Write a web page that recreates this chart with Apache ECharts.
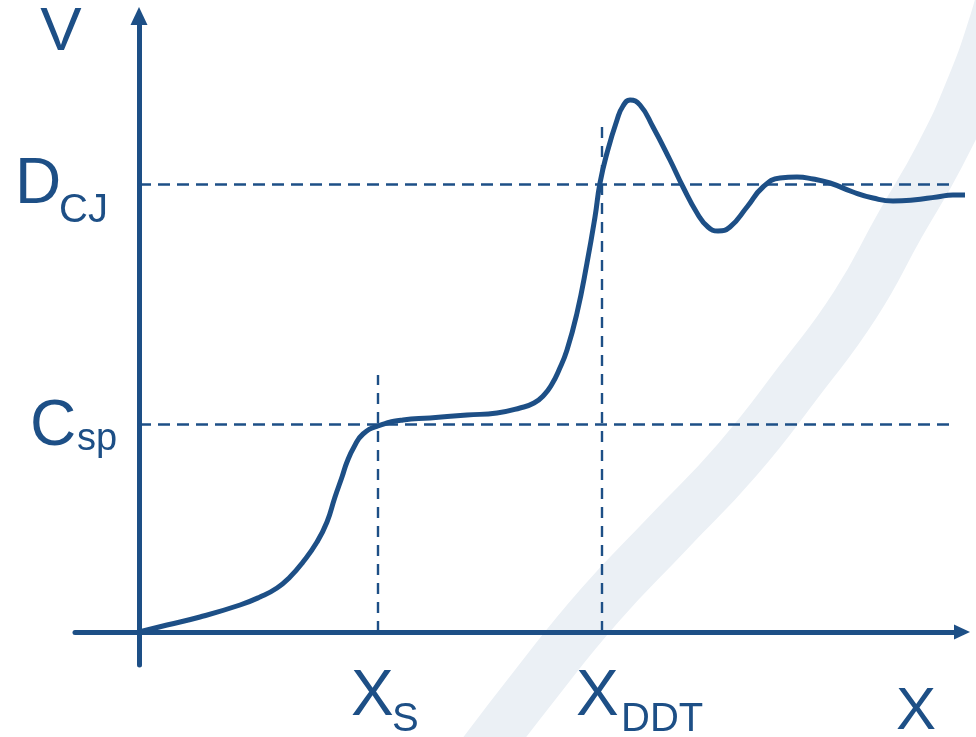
<!DOCTYPE html>
<html>
<head>
<meta charset="utf-8">
<script src="https://cdn.jsdelivr.net/npm/echarts@6/dist/echarts.min.js"></script>
<style>
  html, body { margin: 0; padding: 0; background: #ffffff; }
  #chart { width: 976px; height: 737px; }
</style>
</head>
<body>
<div id="chart"></div>
<script>
// Distance along the tube (x) and front velocity (v) of the detonation profile
const distance = [0, 28, 61, 101, 121, 138, 151, 164, 178, 188, 196, 203, 208, 215, 224, 239, 264, 291, 328, 358, 381, 395, 405, 413, 420, 428, 438, 448, 456, 461, 468, 478, 484, 491, 501, 514, 531, 544, 558, 569, 579, 591, 608, 624, 641, 658, 674, 691, 714, 734, 754, 774, 798, 814, 831];
const velocity = [0, 7, 15, 27, 35, 44, 55, 70, 90, 110, 135, 155, 170, 185, 198, 206, 212, 214, 217, 219, 224, 229, 237, 248, 262, 282, 319, 369, 415, 449, 479, 512, 526, 532, 527, 505, 472, 445, 419, 405, 401, 405, 425, 445, 454, 455, 453, 449, 440, 434, 431, 432, 435, 437, 437];

// Reference levels and positions
const levelNames = ['D', 'C'];
const levelSubs = ['CJ', 'sp'];
const levelValues = [448, 208];          // D_CJ, C_sp
const levelLineEnd = 816;
const posNames = ['X', 'X'];
const posSubs = ['S', 'DDT'];
const posValues = [239, 463];            // X_S, X_DDT
const posLineTop = [257, 512];

// Axis extents
const xMin = -64, xMax = 823;
const yMin = -33, yMax = 616;

const ink = '#1d4f86';
const font = '"Liberation Sans", Arial, Helvetica, sans-serif';

const chart = echarts.init(document.getElementById('chart'), null, { renderer: 'canvas' });

const markData = [];
levelValues.forEach(v => {
  markData.push([{ coord: [0, v], lineStyle: { width: 2.6, type: [12, 7] } }, { coord: [levelLineEnd, v] }]);
});
posValues.forEach((x, i) => {
  markData.push([{ coord: [x, 0], lineStyle: { width: 2.4, type: [11, 8] } }, { coord: [x, posLineTop[i]] }]);
});

const axisCommon = {
  type: 'value',
  splitLine: { show: false },
  axisTick: { show: false },
  axisLabel: { show: false }
};

chart.setOption({
  animation: false,
  backgroundColor: '#ffffff',
  grid: { left: 75, right: 14, top: 16, bottom: 72 },
  xAxis: Object.assign({}, axisCommon, {
    min: xMin, max: xMax,
    axisLine: {
      show: true, onZero: true,
      symbol: ['none', 'triangle'], symbolSize: [15, 16],
      lineStyle: { color: ink, width: 5 }
    }
  }),
  yAxis: Object.assign({}, axisCommon, {
    min: yMin, max: yMax,
    axisLine: {
      show: true, onZero: true,
      symbol: ['none', 'triangle'], symbolSize: [17, 18],
      lineStyle: { color: ink, width: 5 }
    }
  }),
  series: [{
    type: 'line',
    data: distance.map((x, i) => [x, velocity[i]]),
    smooth: 0.5,
    showSymbol: false,
    clip: false,
    lineStyle: { color: ink, width: 5 },
    z: 3,
    markLine: {
      silent: true,
      symbol: ['none', 'none'],
      label: { show: false },
      lineStyle: { color: ink, opacity: 1 },
      data: markData,
      z: 2
    }
  }]
});

// Axis and level labels, placed through the axis scales
function px(x, y) { return chart.convertToPixel({ gridIndex: 0 }, [x, y]); }
const texts = [];
function addText(str, x, y, size, align) {
  texts.push({
    type: 'text', x: x, y: y, z: 10,
    style: { text: str, fill: ink, font: size + 'px ' + font, textAlign: align || 'left', textVerticalAlign: 'middle' }
  });
}
const origin = px(0, 0);
const axisTop = px(0, yMax);
addText('V', origin[0] - 78, axisTop[1] + 17, 62, 'center');
levelValues.forEach((v, i) => {
  const p = px(0, v);
  const main = i === 0 ? [-124, 1] : [-109, 3];
  const sub = i === 0 ? [-80, 27] : [-62, 16];
  addText(levelNames[i], p[0] + main[0], p[1] + main[1], 64);
  addText(levelSubs[i], p[0] + sub[0], p[1] + sub[1], i === 0 ? 40 : 38);
});
posValues.forEach((x, i) => {
  const p = px(x, 0);
  const main = i === 0 ? -27 : -26;
  const subGap = i === 0 ? 41 : 45;
  addText(posNames[i], p[0] + main, p[1] + 65, 64);
  addText(posSubs[i], p[0] + main + subGap, p[1] + 88, 40);
});
const xEnd = px(xMax, 0);
addText('X', xEnd[0] - 66, xEnd[1] + 80, 60);

// Pale background swoosh behind the plot
const swoosh = {
  type: 'polyline', z: -10, silent: true,
  shape: {
    points: [[470, 770], [535, 685], [600, 605], [668, 533], [737, 460], [800, 380], [855, 305], [900, 225], [940, 155], [970, 90], [995, 20], [1005, -20]],
    smooth: 0.5
  },
  style: { stroke: '#ebf0f5', lineWidth: 50, fill: null }
};

chart.setOption({ graphic: [swoosh].concat(texts) });
</script>
</body>
</html>
